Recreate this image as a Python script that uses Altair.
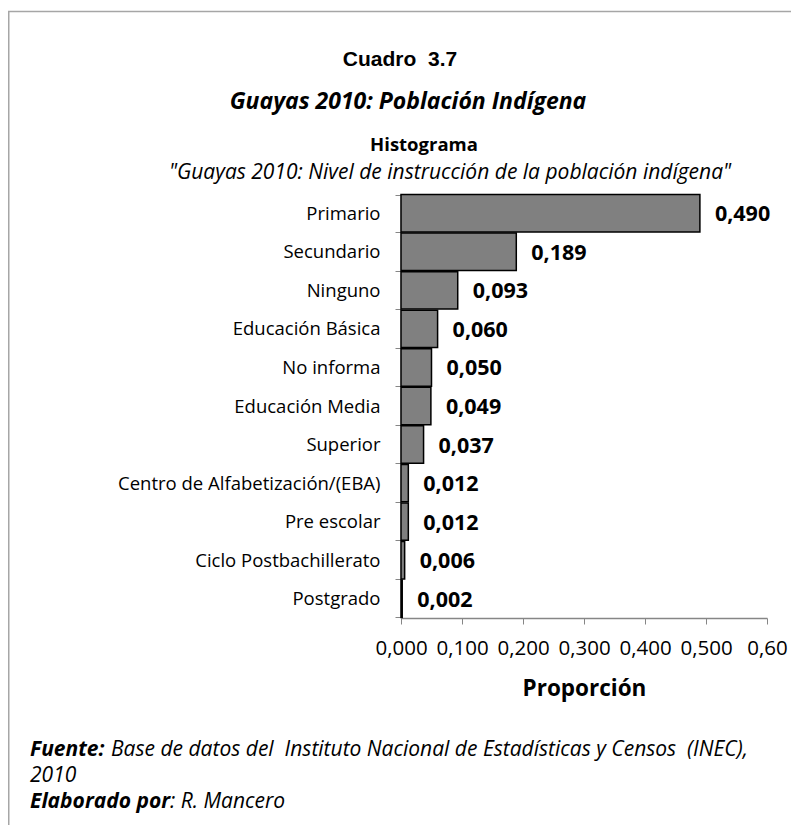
import altair as alt
import pandas as pd

# ---- data ----
categories = ["Primario", "Secundario", "Ninguno", "Educación Básica", "No informa",
              "Educación Media", "Superior", "Centro de Alfabetización/(EBA)",
              "Pre escolar", "Ciclo Postbachillerato", "Postgrado"]
values = [0.490, 0.189, 0.093, 0.060, 0.050, 0.049, 0.037, 0.012, 0.012, 0.006, 0.002]
x_ticks = [0.0, 0.1, 0.2, 0.3, 0.4, 0.5, 0.6]

NB = "\u00a0"
title_main = "Cuadro" + NB + NB + "3.7"
title_sub = "Guayas 2010: Población Indígena"
chart_title = "Histograma"
chart_sub = "\"Guayas 2010: Nivel de instrucción de la población indígena\""
x_title = "Proporción"
foot1_bold = "Fuente:"
foot1_rest = "Base de datos del " + NB + "Instituto Nacional de Estadísticas y Censos " + NB + "(INEC),"
foot2 = "2010"
foot3_bold = "Elaborado por"
foot3_rest = ": R. Mancero"

df = pd.DataFrame({
    "nivel": categories,
    "prop": values,
    "label": [f"{v:.3f}".replace(".", ",") for v in values],
})

W, H = 366, 424
PL, PT = 393, 186
FONT = "Open Sans"

y_axis = alt.Axis(title=None, tickBand="extent", labelFont=FONT, labelFontSize=18.5,
                  labelColor="#000000", labelPadding=15, domainColor="#868686",
                  tickColor="#868686", tickSize=6, labelLimit=400, domainWidth=1.5)
x_axis = alt.Axis(values=x_ticks, grid=False, title=x_title,
                  labelExpr="datum.value >= 0.6 ? '0,60' : replace(format(datum.value, '.3f'), '.', ',')",
                  labelFont=FONT, labelFontSize=20.5, labelColor="#000000", labelPadding=14,
                  domainColor="#868686", tickColor="#868686", tickSize=6, domainWidth=1.5,
                  titleFont=FONT, titleFontSize=22.5, titleFontWeight="bold", titleColor="#000000",
                  titlePadding=19, labelFlush=False, labelOverlap=False)

y_enc = alt.Y("nivel:N", sort=categories,
              scale=alt.Scale(paddingInner=0.03, paddingOuter=0.015), axis=y_axis)
x_enc = alt.X("prop:Q", scale=alt.Scale(domain=[0, 0.6], nice=False, zero=True), axis=x_axis)

bars = alt.Chart(df).mark_bar(color="#808080", stroke="#000000", strokeWidth=1.5).encode(
    x=x_enc, y=y_enc)

labels = alt.Chart(df).mark_text(align="left", baseline="middle", dx=15, dy=2, font=FONT,
                                 fontSize=21.5, fontWeight="bold", color="#000000").encode(
    x=alt.X("prop:Q"), y=alt.Y("nivel:N", sort=categories), text="label:N")


def txt(s, x, y, size, weight="normal", style="normal", font=FONT, align="center",
        baseline="middle"):
    return alt.Chart(pd.DataFrame({"t": [s]})).mark_text(
        align=align, baseline=baseline, font=font, fontSize=size, fontWeight=weight,
        fontStyle=style, color="#000000").encode(
        text="t:N", x=alt.value(x), y=alt.value(y))


border = alt.Chart(pd.DataFrame({"t": [0]})).mark_rect(
    fill="transparent", stroke="#a6a6a6", strokeWidth=1.5).encode(
    x=alt.value(-392.25), x2=alt.value(395), y=alt.value(-182.5), y2=alt.value(700))

FS = 21
texts = [
    txt(title_main, -1, -134, 21, weight="bold", font="Liberation Sans"),
    txt(title_sub, 7, -92, 23, weight="bold", style="italic"),
    txt(chart_title, 23, -49, 18.5, weight="bold"),
    txt(chart_sub, 49, -21, 21, style="italic"),
    txt(foot1_bold, -371, 562, FS, weight="bold", style="italic", align="left", baseline="alphabetic"),
    txt(foot1_rest, -290, 562, FS, style="italic", align="left", baseline="alphabetic"),
    txt(foot2, -371, 588, FS, style="italic", align="left", baseline="alphabetic"),
    txt(foot3_bold, -371, 614, FS, weight="bold", style="italic", align="left", baseline="alphabetic"),
    txt(foot3_rest, -231, 614, FS, style="italic", align="left", baseline="alphabetic"),
]

chart = alt.layer(border, bars, labels, *texts).properties(
    width=W, height=H,
    autosize=alt.AutoSizeParams(type="none"),
    padding={"left": PL, "top": PT, "right": 24, "bottom": 207},
).configure_view(strokeWidth=0)

chart.save("out.html", embed_options={"renderer": "svg", "actions": False})
